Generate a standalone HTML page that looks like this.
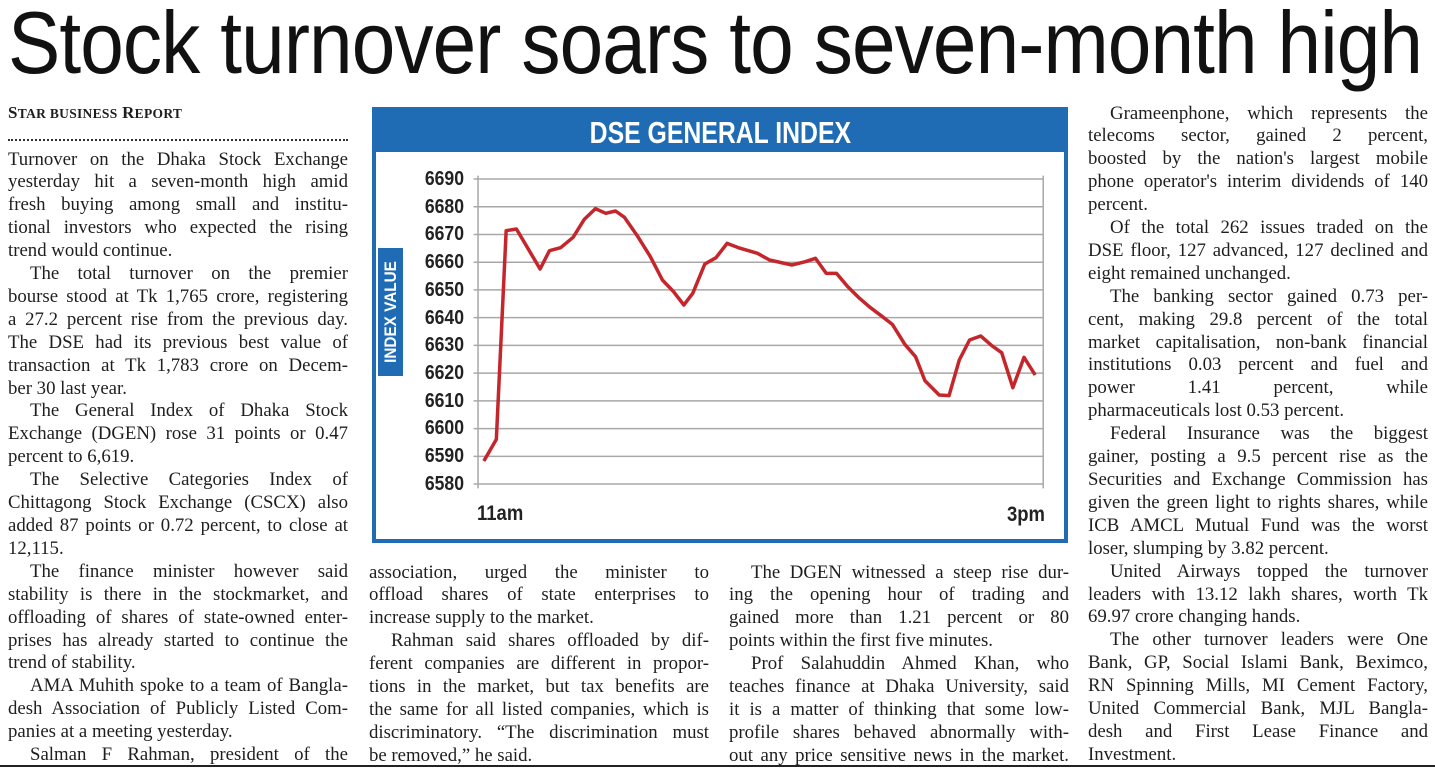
<!DOCTYPE html>
<html><head><meta charset="utf-8">
<style>
*{margin:0;padding:0;box-sizing:border-box}
body{width:1435px;height:769px;background:#fff;position:relative;overflow:hidden;font-family:"Liberation Serif",serif;color:#1e1e1e}
.h{position:absolute;left:8px;top:-8px;font-family:"Liberation Sans",sans-serif;font-size:88px;white-space:nowrap;transform-origin:0 0;color:#111;letter-spacing:-1px}
.col{position:absolute;width:340px}
.col div{height:22.92px;line-height:22.92px;font-size:18.8px;white-space:nowrap;text-align:justify;text-align-last:justify;overflow:visible}
.col div.i{padding-left:22px}
.col div.e{text-align-last:left}
.chart{position:absolute;left:372px;top:107px;width:696px;height:436px;border:4px solid #1f6cb4;background:#fff}
.band{position:absolute;left:0;top:0;width:100%;height:41px;background:#1f6cb4;color:#fff;text-align:center;font-family:"Liberation Sans",sans-serif;font-weight:bold;font-size:31px;line-height:43px}
.band span{display:inline-block;transform:scaleX(0.8)}
.yl{position:absolute;font-family:"Liberation Sans",sans-serif;font-weight:bold;font-size:20px;color:#222;width:60px;text-align:right;line-height:20px;transform:scaleX(0.88);transform-origin:100% 50%}
.tab{position:absolute;left:378px;top:248px;width:25px;height:128px;background:#1f6cb4}
.tab span{position:absolute;left:50%;top:50%;transform:translate(-50%,-50%) rotate(-90deg) scaleX(0.9);color:#fff;font-family:"Liberation Sans",sans-serif;font-weight:bold;font-size:17px;white-space:nowrap}
</style></head><body>
<div class="h" style="transform:scaleX(0.89)">Stock turnover soars to seven-month high</div>

<div style="position:absolute;left:8px;top:103px;font-weight:bold;font-size:17px;letter-spacing:0.3px">S<span style="font-size:13.5px">TAR BUSINESS</span> R<span style="font-size:13.5px">EPORT</span></div>
<div style="position:absolute;left:8px;top:139px;width:340px;border-top:2px dotted #333"></div>

<div class="col" style="left:8px;top:148.5px">
<div>Turnover on the Dhaka Stock Exchange</div>
<div>yesterday hit a seven-month high amid</div>
<div>fresh buying among small and institu-</div>
<div>tional investors who expected the rising</div>
<div class="e">trend would continue.</div>
<div class="i">The total turnover on the premier</div>
<div>bourse stood at Tk 1,765 crore, registering</div>
<div>a 27.2 percent rise from the previous day.</div>
<div>The DSE had its previous best value of</div>
<div>transaction at Tk 1,783 crore on Decem-</div>
<div class="e">ber 30 last year.</div>
<div class="i">The General Index of Dhaka Stock</div>
<div>Exchange (DGEN) rose 31 points or 0.47</div>
<div class="e">percent to 6,619.</div>
<div class="i">The Selective Categories Index of</div>
<div>Chittagong Stock Exchange (CSCX) also</div>
<div>added 87 points or 0.72 percent, to close at</div>
<div class="e">12,115.</div>
<div class="i">The finance minister however said</div>
<div>stability is there in the stockmarket, and</div>
<div>offloading of shares of state-owned enter-</div>
<div>prises has already started to continue the</div>
<div class="e">trend of stability.</div>
<div class="i">AMA Muhith spoke to a team of Bangla-</div>
<div>desh Association of Publicly Listed Com-</div>
<div class="e">panies at a meeting yesterday.</div>
<div class="i">Salman F Rahman, president of the</div>
</div>

<div class="col" style="left:369px;top:561.5px">
<div>association, urged the minister to</div>
<div>offload shares of state enterprises to</div>
<div class="e">increase supply to the market.</div>
<div class="i">Rahman said shares offloaded by dif-</div>
<div>ferent companies are different in propor-</div>
<div>tions in the market, but tax benefits are</div>
<div>the same for all listed companies, which is</div>
<div>discriminatory. “The discrimination must</div>
<div class="e">be removed,” he said.</div>
</div>

<div class="col" style="left:729px;top:561.5px">
<div class="i">The DGEN witnessed a steep rise dur-</div>
<div>ing the opening hour of trading and</div>
<div>gained more than 1.21 percent or 80</div>
<div class="e">points within the first five minutes.</div>
<div class="i">Prof Salahuddin Ahmed Khan, who</div>
<div>teaches finance at Dhaka University, said</div>
<div>it is a matter of thinking that some low-</div>
<div>profile shares behaved abnormally with-</div>
<div>out any price sensitive news in the market.</div>
</div>

<div class="col" style="left:1088px;top:102.5px">
<div class="i">Grameenphone, which represents the</div>
<div>telecoms sector, gained 2 percent,</div>
<div>boosted by the nation's largest mobile</div>
<div>phone operator's interim dividends of 140</div>
<div class="e">percent.</div>
<div class="i">Of the total 262 issues traded on the</div>
<div>DSE floor, 127 advanced, 127 declined and</div>
<div class="e">eight remained unchanged.</div>
<div class="i">The banking sector gained 0.73 per-</div>
<div>cent, making 29.8 percent of the total</div>
<div>market capitalisation, non-bank financial</div>
<div>institutions 0.03 percent and fuel and</div>
<div>power 1.41 percent, while</div>
<div class="e">pharmaceuticals lost 0.53 percent.</div>
<div class="i">Federal Insurance was the biggest</div>
<div>gainer, posting a 9.5 percent rise as the</div>
<div>Securities and Exchange Commission has</div>
<div>given the green light to rights shares, while</div>
<div>ICB AMCL Mutual Fund was the worst</div>
<div class="e">loser, slumping by 3.82 percent.</div>
<div class="i">United Airways topped the turnover</div>
<div>leaders with 13.12 lakh shares, worth Tk</div>
<div class="e">69.97 crore changing hands.</div>
<div class="i">The other turnover leaders were One</div>
<div>Bank, GP, Social Islami Bank, Beximco,</div>
<div>RN Spinning Mills, MI Cement Factory,</div>
<div>United Commercial Bank, MJL Bangla-</div>
<div>desh and First Lease Finance and</div>
<div class="e">Investment.</div>
</div>

<div class="chart"><div class="band"><span>DSE GENERAL INDEX</span></div></div>

<svg style="position:absolute;left:370px;top:105px" width="700" height="440" viewBox="0 0 1568 1320" preserveAspectRatio="none">
<path vector-effect="non-scaling-stroke" stroke="#a8a8a8" stroke-width="1.5" fill="none" d="M232 222H1508M232 305.2H1508M232 388.4H1508M232 471.6H1508M232 554.8H1508M232 638H1508M232 721.2H1508M232 804.4H1508M232 887.6H1508M232 970.8H1508M232 1054H1508M232 1137H1508M242 212V1150M1508 212V1150"/>
<polyline vector-effect="non-scaling-stroke" fill="none" stroke="#c4262b" stroke-width="3.5" stroke-linejoin="round" points="255,1068 283,1003 305,377 328,372 381,492 402,437 427,428 455,397 480,343 505,311 528,325 550,318 570,337 600,395 628,455 655,525 680,560 703,600 723,565 750,477 775,458 800,415 825,428 868,445 895,465 945,480 975,470 998,460 1022,505 1045,505 1070,545 1095,578 1120,607 1145,632 1170,658 1198,718 1222,755 1243,827 1275,870 1297,872 1320,765 1343,705 1368,693 1393,722 1415,743 1440,848 1465,757 1490,810"/>
</svg>

<div class="tab"><span>INDEX VALUE</span></div>
<div class="yl" style="left:404px;top:169px">6690</div>
<div class="yl" style="left:404px;top:197px">6680</div>
<div class="yl" style="left:404px;top:224px">6670</div>
<div class="yl" style="left:404px;top:252px">6660</div>
<div class="yl" style="left:404px;top:280px">6650</div>
<div class="yl" style="left:404px;top:308px">6640</div>
<div class="yl" style="left:404px;top:335px">6630</div>
<div class="yl" style="left:404px;top:363px">6620</div>
<div class="yl" style="left:404px;top:391px">6610</div>
<div class="yl" style="left:404px;top:418px">6600</div>
<div class="yl" style="left:404px;top:446px">6590</div>
<div class="yl" style="left:404px;top:474px">6580</div>
<div class="yl" style="left:477px;top:504px;text-align:left;font-size:21px;transform-origin:0 50%">11am</div>
<div class="yl" style="left:985px;top:505px;font-size:21px">3pm</div>

<div style="position:absolute;left:0;top:765px;width:1435px;border-top:2px solid #222"></div>
</body></html>
